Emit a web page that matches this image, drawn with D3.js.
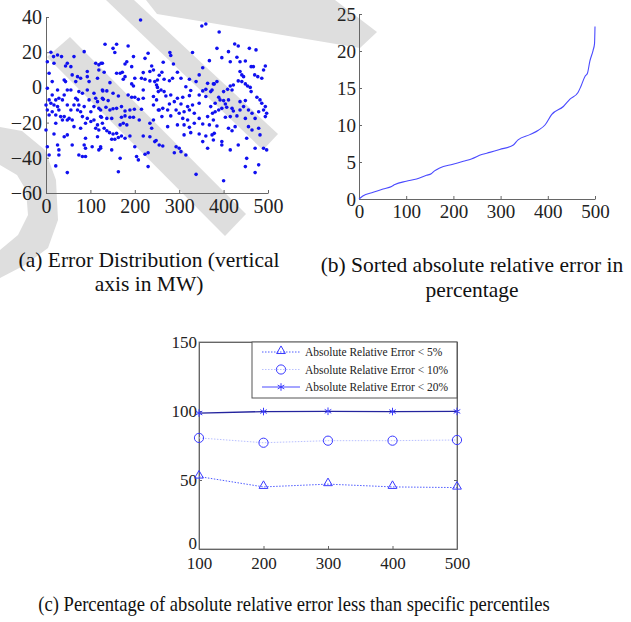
<!DOCTYPE html>
<html>
<head>
<meta charset="utf-8">
<script src="https://cdn.jsdelivr.net/npm/d3@7"></script>
<style>
  body { margin: 0; background: #fff; }
  svg { display: block; font-family: "Liberation Serif", "Times New Roman", serif; }
  .axis path, .axis line { stroke: #666; }
  .axis text { fill: #222; }
</style>
</head>
<body>
<div id="fig"></div>
<script>
// (a) error of each forecast, [sample index, error in MW]
var errorPoints = [
  [11,20],[17,17.5],[26,18.4],[35,17.5],[3,14.6],[18,13.7],[48,13.7],[63,17.5],[86,20.3],[112,13.7],[119,12.8],[44,12.2],[56,11.8],[127,13.7],
  [7,8],[59,7.1],[71,6.1],[78,5.2],[93,6.1],[116,5.2],[41,4.2],[119,9.9],[93,9],[14,3.3],[44,3.3],[67,3.3],[97,3.3],[3,-0.5],[26,-1.5],
  [48,-1.5],[56,-1.5],[74,-2.4],[93,-1.5],[127,-1.5],[108,-3.3],[14,-4.3],[41,-4.3],[82,-3.3],[112,-6.2],[127,-6.2],[7,-7.1],[22,-7.1],
  [29,-6.2],[37,-7.1],[67,-6.2],[71,-7.1],[97,-7.1],[116,-8.1],[0,-10],[11,-9],[18,-10],[26,-10.9],[48,-10],[63,-10],[74,-10],[86,-10.9],
  [108,-10.9],[119,-11.9],[3,-12.8],[14,-13.8],[29,-12.8],[56,-12.8],[71,-12.8],[78,-13.8],[101,-13.8],[123,-12.8],[7,-15.7],[22,-15.7],
  [33,-16.6],[41,-16.6],[52,-17.6],[82,-16.6],[93,-17.6],[123,-16.6],[37,-18.5],[48,-18.5],[59,-18.5],[101,-19.4],[108,-18.5],[22,-20.4],
  [89,-20.4],[116,-21.3],[127,-20.4],[63,-22.3],[78,-23.2],[112,-23.2],[0,-24.2],[119,-24.2],[116,-28],[18,-26.5],[48,-27],[41,-28],
  [89,-28.9],[3,-33.7],[26,-32.7],[59,-32.7],[86,-32.7],[89,-34.6],[104,-33.7],[123,-33.7],[119,-35.5],[29,-35.5],[7,-38.4],[29,-38.4],
  [74,-38.4],[82,-39.3],[89,-39.3],[22,-44.6],[48,-48.4],
  [213,38.3],[133,24.5],[159,24.5],[151,22.2],[155,19.8],[185,23.5],[230,19.4],[223,16.5],[197,17.5],[182,14.6],[178,13.3],[193,11.8],
  [124,13.7],[238,12.2],[242,9.9],[219,8.4],[234,9],[159,8],[167,8],[172,8.6],[178,6.1],[174,4.6],[200,5.2],[215,5.2],[223,4.6],[234,3.7],
  [245,3.3],[131,8.6],[144,2.7],[193,2],[197,0.8],[249,1.4],[219,-1.5],[253,-2.4],[128,-2],[137,-2],[151,-3.3],[163,-4.9],[185,-4.3],
  [193,-5.6],[200,-5.6],[208,-6.8],[219,-6.2],[242,-5.2],[129,-6.8],[140,-7.5],[135,-11.3],[144,-12.8],[151,-12.1],[159,-11.9],[170,-10.9],
  [178,-13.4],[189,-12.8],[199,-12.4],[215,-12.4],[242,-10],[253,-12.8],[125,-17],[137,-17.6],[148,-17.6],[170,-17],[178,-16.2],[189,-17],
  [197,-17],[210,-18.5],[174,-20.4],[167,-21.3],[182,-21.3],[242,-18.5],[234,-20.4],[238,-23.2],[131,-23.2],[143,-25.7],[137,-24.6],
  [151,-26.5],[159,-26.1],[170,-27.6],[148,-29.5],[155,-29.5],[163,-28.5],[178,-28.9],[189,-27.6],[200,-33.7],[219,-27.6],[234,-28],
  [245,-30.8],[123,-34.6],[148,-35.5],[223,-38],[230,-37.1],[204,-39.3],[208,-41.2],[167,-40.3],[230,-45],[163,-47.9],
  [351,34.9],[360,36],[330,19.8],[279,19.8],[281,18.1],[368,15.2],[264,14.3],[287,13.3],[353,11.2],[296,8.6],[261,8.6],[255,6.9],[304,5.2],
  [323,4.6],[345,7.1],[266,4.6],[278,3.8],[251,4.2],[285,5.2],[338,3.3],[364,2.3],[379,2],[251,0],[259,-1.5],[266,-2.4],[315,0.4],
  [326,-1.8],[353,-2],[360,-1.1],[371,-2.4],[270,-4.9],[281,-4.3],[296,-6.2],[308,-5.6],[323,-4.7],[345,-4.3],[360,-5.2],[249,-7.1],
  [278,-9.4],[289,-8.1],[304,-9.4],[319,-10.9],[330,-10],[345,-9],[263,-11.9],[255,-12.8],[274,-12.8],[293,-12.8],[300,-14.7],[311,-13.8],
  [323,-12.8],[334,-14.7],[371,-10.9],[375,-14.7],[281,-16.2],[261,-16.6],[308,-17.6],[319,-18.5],[345,-17.6],[364,-16.6],[296,-21.3],
  [311,-21.3],[323,-22.7],[334,-20.4],[353,-20.8],[368,-21.3],[274,-22.3],[326,-25.7],[345,-26.5],[360,-27.6],[379,-26.1],[311,-27],
  [248,-30.2],[255,-32.7],[263,-33.3],[353,-30.8],[364,-34.6],[293,-33.7],[300,-34.6],[289,-37.1],[304,-36.5],[315,-38.4],[338,-49.4],
  [390,31.5],[385,22.2],[425,24.7],[433,23.5],[411,20.3],[458,22.2],[473,21.3],[396,16.9],[430,17.1],[437,14.6],[449,15],[415,14.6],
  [462,11.8],[467,11.8],[490,9.9],[494,12.2],[470,7.1],[477,6.1],[486,5.2],[437,9],[441,7.1],[445,6.1],[433,3.7],[441,3.3],[449,2],
  [454,0.8],[460,0],[462,-2.4],[422,1.4],[415,0.8],[409,-1.1],[419,-1.5],[400,-2.4],[377,2],[385,3.3],[374,-1.5],[389,-5.6],[392,-7.1],
  [381,-9],[400,-7.5],[404,-9.4],[411,-7.1],[407,-11.3],[396,-11.9],[389,-12.8],[381,-13.8],[419,-11.9],[422,-13.4],[437,-8.1],[449,-7.5],
  [445,-10.9],[437,-12.8],[475,-5.6],[482,-7.1],[486,-9],[494,-10.9],[490,-12.8],[479,-13.8],[456,-12.8],[464,-14.7],[497,-14.7],
  [404,-17],[415,-16.6],[430,-16.2],[449,-17.6],[471,-17.6],[494,-16.6],[377,-18.5],[385,-21.9],[411,-23.2],[419,-24.6],[426,-22.3],
  [456,-22.3],[464,-24.2],[479,-23.2],[482,-27],[374,-27],[377,-29.9],[396,-30.8],[396,-32.7],[433,-32.7],[452,-28.9],[471,-34.6],
  [490,-34.6],[497,-35.5],[415,-35.5],[452,-40.3],[449,-45],[479,-44],[471,-48.4],[400,-53]
];
var scatterXTicks = [0, 100, 200, 300, 400, 500];
var scatterYTicks = [-60, -40, -20, 0, 20, 40];

// (b) sorted absolute relative error (%)
var sortedRank = [0, 8, 30, 51, 69, 76, 100, 122, 143, 153, 160, 171, 199, 221, 238, 260, 277, 298, 327, 337, 362, 380, 394, 408, 433, 447, 464, 470, 479, 484, 489, 496, 499, 500];
var sortedErr  = [0, 0.4, 0.9, 1.35, 1.7, 1.95, 2.4, 2.7, 3.2, 3.4, 3.8, 4.2, 4.7, 5.1, 5.4, 6.0, 6.3, 6.7, 7.3, 8.0, 8.7, 9.3, 10.0, 11.4, 12.5, 13.5, 14.4, 15.2, 16.6, 17.0, 18.6, 20.1, 21.0, 23.3];
var sortedXTicks = [0, 100, 200, 300, 400, 500];
var sortedYTicks = [0, 5, 10, 15, 20, 25];

// (c) percentage of samples under each threshold
var sampleSizes = [100, 200, 300, 400, 500];
var below5  = [52.5, 45, 47, 45, 44.5];
var below10 = [80.5, 77, 78.5, 78.5, 79];
var below20 = [98.5, 99.6, 99.8, 99.6, 99.7];
var seriesNames = ["Absolute Relative Error < 5%", "Absolute Relative Error < 10%", "Absolute Relative Error < 20%"];
var percentYTicks = [0, 50, 100, 150];

var captionA = ["(a) Error Distribution (vertical", "axis in MW)"];
var captionB = ["(b) Sorted absolute relative error in", "percentage"];
var captionC = ["(c) Percentage of absolute relative error less than specific percentiles"];

var svg = d3.select("#fig").append("svg")
    .attr("width", 631)
    .attr("height", 622);

// faint grey watermark behind everything
var mark = svg.append("g").attr("fill", "#dedede");
mark.append("path").attr("d", "M47,57 L70,37 L246,214 L225,236 Z");
mark.append("path").attr("d", "M106,0 L134,0 L278,134 L263,150 Z");
mark.append("path").attr("d", "M146,0 L335,0 L377,32 L360,48 L157,14 Z");
mark.append("path").attr("d", "M0,127 L22,131 L45,150 L56,180 L58,220 L48,248 L25,265 L0,278 L0,250 L18,235 L28,215 L26,190 L17,175 L0,165 Z");

function styleAxis(g, size) {
  g.attr("class", "axis").attr("font-family", null).attr("font-size", size);
}

function ScatterChart() {
  var x = d3.scaleLinear().domain([0, 500]).range([46, 268]);
  var y = d3.scaleLinear().domain([-60, 40]).range([193, 17]);
  var g = svg.append("g");
  g.append("g")
      .attr("transform", "translate(0,193)")
      .call(d3.axisBottom(x).tickValues(scatterXTicks).tickFormat(d3.format("d"))
        .tickSizeInner(-3).tickSizeOuter(0).tickPadding(6))
      .call(styleAxis, 20);
  g.append("g")
      .attr("transform", "translate(46,0)")
      .call(d3.axisLeft(y).tickValues(scatterYTicks).tickFormat(d3.format("d"))
        .tickSizeInner(-3).tickSizeOuter(0).tickPadding(4))
      .call(styleAxis, 20);
  g.selectAll(".dot")
      .data(errorPoints)
    .enter().append("circle")
      .attr("class", "dot")
      .attr("cx", function(d) { return x(d[0]); })
      .attr("cy", function(d) { return y(d[1]); })
      .attr("r", 1.8)
      .attr("fill", "#1010f0");
}

function SortedChart() {
  var x = d3.scaleLinear().domain([0, 500]).range([359, 595]);
  var y = d3.scaleLinear().domain([0, 25]).range([199, 14]);
  var g = svg.append("g");
  g.append("g")
      .attr("transform", "translate(0,199)")
      .call(d3.axisBottom(x).tickValues(sortedXTicks).tickFormat(d3.format("d"))
        .tickSizeInner(-3).tickSizeOuter(0).tickPadding(6))
      .call(styleAxis, 19);
  g.append("g")
      .attr("transform", "translate(359,0)")
      .call(d3.axisLeft(y).tickValues(sortedYTicks).tickFormat(d3.format("d"))
        .tickSizeInner(-3).tickSizeOuter(0).tickPadding(3))
      .call(styleAxis, 19);
  var line = d3.line()
      .x(function(d, i) { return x(sortedRank[i]); })
      .y(function(d) { return y(d); })
      .curve(d3.curveMonotoneX);
  g.append("path")
      .datum(sortedErr)
      .attr("d", line)
      .attr("fill", "none")
      .attr("stroke", "#4a4aff")
      .attr("stroke-width", 1.1);
}

function PercentChart() {
  var x = d3.scaleLinear().domain([100, 500]).range([199, 457]);
  var y = d3.scaleLinear().domain([0, 150]).range([549, 342]);
  var g = svg.append("g");
  g.append("rect")
      .attr("x", 199).attr("y", 342).attr("width", 258).attr("height", 207)
      .attr("fill", "none").attr("stroke", "#888");
  g.append("g")
      .attr("transform", "translate(0,549)")
      .call(d3.axisBottom(x).tickValues(sampleSizes).tickFormat(d3.format("d"))
        .tickSizeInner(-3).tickSizeOuter(0).tickPadding(8))
      .call(styleAxis, 17);
  var left = g.append("g")
      .attr("transform", "translate(199,0)")
      .call(d3.axisLeft(y).tickValues(percentYTicks).tickFormat(d3.format("d"))
        .tickSizeInner(-3).tickSizeOuter(0).tickPadding(2))
      .call(styleAxis, 17);
  left.selectAll(".tick text")
      .attr("dy", function(d) { return d === 0 ? "-0.05em" : "0.32em"; });
  g.append("g")
      .attr("transform", "translate(457,0)")
      .call(d3.axisRight(y).tickValues(percentYTicks).tickFormat("")
        .tickSizeInner(-3).tickSizeOuter(0))
      .call(styleAxis, 17);
  g.append("g")
      .attr("transform", "translate(0,342)")
      .call(d3.axisTop(x).tickValues(sampleSizes).tickFormat("")
        .tickSizeInner(-3).tickSizeOuter(0))
      .call(styleAxis, 17);

  var series = [
    {name: seriesNames[0], values: below5,  line: "#4f5cff", dash: "1.5,1.5", width: 1,   mark: "tri"},
    {name: seriesNames[1], values: below10, line: "#b9c0ff", dash: "1.5,1.5", width: 1,   mark: "circ"},
    {name: seriesNames[2], values: below20, line: "#24249e", dash: null,      width: 1.3, mark: "star"}
  ];
  var line = d3.line()
      .x(function(d, i) { return x(sampleSizes[i]); })
      .y(function(d) { return y(d); });

  function drawMarker(sel, kind) {
    if (kind === "tri") {
      sel.append("path").attr("d", d3.symbol(d3.symbolTriangle2, 55)())
        .attr("transform", "translate(0,-1)")
        .attr("fill", "none").attr("stroke", "#3a3aff").attr("stroke-width", 1);
    } else if (kind === "circ") {
      sel.append("circle").attr("r", 4.6)
        .attr("fill", "none").attr("stroke", "#3a3aff").attr("stroke-width", 1);
    } else {
      sel.append("path").attr("d", d3.symbol(d3.symbolAsterisk, 40)())
        .attr("fill", "none").attr("stroke", "#3a3aff").attr("stroke-width", 1);
    }
  }

  series.forEach(function(s) {
    g.append("path")
        .datum(s.values)
        .attr("d", line)
        .attr("fill", "none")
        .attr("stroke", s.line)
        .attr("stroke-width", s.width)
        .attr("stroke-dasharray", s.dash);
    g.selectAll(".m-" + s.mark)
        .data(s.values)
      .enter().append("g")
        .attr("class", "m-" + s.mark)
        .attr("transform", function(d, i) { return "translate(" + x(sampleSizes[i]) + "," + y(d) + ")"; })
        .each(function() { drawMarker(d3.select(this), s.mark); });
  });

  // legend
  var lg = g.append("g").attr("transform", "translate(252,342)");
  lg.append("rect").attr("width", 205).attr("height", 56)
      .attr("fill", "#fff").attr("stroke", "#555");
  series.forEach(function(s, i) {
    var row = lg.append("g").attr("transform", "translate(0," + (10 + i * 17.5) + ")");
    row.append("line").attr("x1", 10).attr("x2", 48)
        .attr("stroke", s.mark === "star" ? "#4a4aff" : s.line)
        .attr("stroke-width", 1).attr("stroke-dasharray", s.dash);
    var m = row.append("g").attr("transform", "translate(29,0)");
    drawMarker(m, s.mark);
    row.append("text").attr("x", 53).attr("dy", "0.35em")
        .style("font-size", "11.5px").attr("fill", "#222").text(s.name);
  });
}

function Captions() {
  var cap = svg.append("g").attr("fill", "#111");
  cap.selectAll(".ca").data(captionA).enter().append("text")
      .attr("x", 149).attr("y", function(d, i) { return 267 + i * 24; })
      .attr("text-anchor", "middle").style("font-size", "21.5px").text(function(d) { return d; });
  cap.selectAll(".cb").data(captionB).enter().append("text")
      .attr("x", 472).attr("y", function(d, i) { return 272 + i * 25; })
      .attr("text-anchor", "middle").style("font-size", "21.5px").text(function(d) { return d; });
  cap.selectAll(".cc").data(captionC).enter().append("text")
      .attr("x", 294).attr("y", 611 / 1.15)
      .attr("transform", "scale(1,1.15)")
      .attr("text-anchor", "middle").style("font-size", "18.6px").text(function(d) { return d; });
}

ScatterChart();
SortedChart();
PercentChart();
Captions();
</script>
</body>
</html>
